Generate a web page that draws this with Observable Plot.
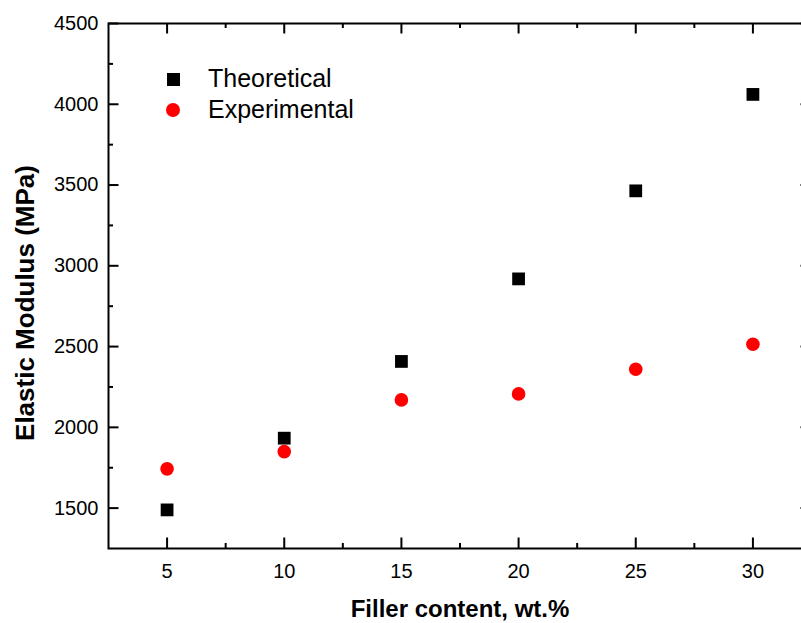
<!DOCTYPE html>
<html>
<head>
<meta charset="utf-8">
<script src="https://cdn.jsdelivr.net/npm/d3@7"></script>
<script src="https://cdn.jsdelivr.net/npm/@observablehq/plot@0.6"></script>
<style>
  html, body { margin: 0; padding: 0; background: #fff; overflow: hidden; }
  #wrap { position: relative; width: 801px; height: 623px; overflow: hidden; font-family: "Liberation Sans", Arial, sans-serif; }
  #wrap svg { max-width: none !important; display: block; overflow: hidden !important; }
  #legend { position: absolute; left: 0; top: 0; }
  .lg-row { position: absolute; left: 0; white-space: nowrap; font-size: 25px; color: #000; }
  .lg-sym { position: absolute; }
</style>
</head>
<body>
<div id="wrap"><div id="legend"></div></div>
<script>
// ---- data ----
const fillerContent = [5, 10, 15, 20, 25, 30];
const theoretical   = [1489, 1933, 2408, 2919, 3464, 4061];
const experimental  = [1743, 1850, 2170, 2207, 2360, 2514];
const seriesNames   = ["Theoretical", "Experimental"];
const xDomain = [2.5, 32.5];
const yDomain = [1250, 4500];
const xMajorTicks = [5, 10, 15, 20, 25, 30];
const xMinorTicks = [7.5, 12.5, 17.5, 22.5, 27.5];
const yMajorTicks = [1500, 2000, 2500, 3000, 3500, 4000, 4500];
const yMinorTicks = [1750, 2250, 2750, 3250, 3750, 4250];
const xTitle = "Filler content, wt.%";
const yTitle = "Elastic Modulus (MPa)";

const rows = [];
fillerContent.forEach((x, i) => {
  rows.push({x, y: theoretical[i], s: seriesNames[0]});
  rows.push({x, y: experimental[i], s: seriesNames[1]});
});

// the plot frame runs past the right edge of the picture (cropped original)
const W = 801, H = 623, ML = 108, MR = -10, MT = 23, MB = 75;
const PW = W - ML - MR, PH = H - MT - MB;
const MAJ = 10.5, MIN = 5;
const tk = {stroke: "#000", strokeWidth: 2};

const chart = Plot.plot({
  width: W, height: H,
  marginLeft: ML, marginRight: MR, marginTop: MT, marginBottom: MB,
  x: {domain: xDomain},
  y: {domain: yDomain},
  style: {fontFamily: "'Liberation Sans', Arial, sans-serif", fontSize: "20px", color: "#000", background: "#fff"},
  marks: [
    // tick labels
    Plot.axisY({ticks: yMajorTicks, anchor: "left", tickSize: 0, tickPadding: 10, tickFormat: d3.format("d"), label: null, fontSize: 20}),
    Plot.axisX({ticks: xMajorTicks, anchor: "bottom", tickSize: 0, tickPadding: 15, tickFormat: d3.format("d"), label: null, fontSize: 20}),
    // inward major ticks
    Plot.tickY(yMajorTicks, {y: d => d, insetRight: PW - MAJ, ...tk}),
    Plot.tickY(yMajorTicks, {y: d => d, insetLeft: PW - MAJ, ...tk}),
    Plot.tickX(xMajorTicks, {x: d => d, insetTop: PH - MAJ, ...tk}),
    Plot.tickX(xMajorTicks, {x: d => d, insetBottom: PH - MAJ, ...tk}),
    // inward minor ticks
    Plot.tickY(yMinorTicks, {y: d => d, insetRight: PW - MIN, ...tk}),
    Plot.tickY(yMinorTicks, {y: d => d, insetLeft: PW - MIN, ...tk}),
    Plot.tickX(xMinorTicks, {x: d => d, insetTop: PH - MIN, ...tk}),
    Plot.tickX(xMinorTicks, {x: d => d, insetBottom: PH - MIN, ...tk}),
    // frame
    Plot.frame({stroke: "#000", strokeWidth: 2}),
    // data
    Plot.dot(rows.filter(d => d.s === seriesNames[0]), {x: "x", y: "y", symbol: "square", r: 7.2, fill: "#000", stroke: "none"}),
    Plot.dot(rows.filter(d => d.s === seriesNames[1]), {x: "x", y: "y", symbol: "circle", r: 6.8, fill: "#ff0000", stroke: "none"}),
    // axis titles
    Plot.text([yTitle], {frameAnchor: "left", dx: -83, dy: 17, rotate: -90, fontWeight: "bold", fontSize: 26, textAnchor: "middle", lineAnchor: "middle", fill: "#000"}),
    Plot.text([xTitle], {frameAnchor: "bottom", dx: 0, dy: 61, fontWeight: "bold", fontSize: 24, textAnchor: "middle", lineAnchor: "middle", fill: "#000"})
  ]
});
const wrap = document.getElementById("wrap");
wrap.insertBefore(chart, wrap.firstChild);

// legend (HTML overlay)
const legend = document.getElementById("legend");
const legendItems = [
  {name: seriesNames[0], shape: "square", color: "#000"},
  {name: seriesNames[1], shape: "circle", color: "#ff0000"}
];
legendItems.forEach((it, i) => {
  const row = document.createElement("div");
  row.className = "lg-row";
  row.style.top = (64 + i * 31) + "px";
  const sym = document.createElement("div");
  sym.className = "lg-sym";
  const sz = it.shape === "square" ? 13 : 14;
  sym.style.width = sz + "px";
  sym.style.height = sz + "px";
  sym.style.left = (173 - sz / 2) + "px";
  sym.style.top = (15 - sz / 2) + "px";
  sym.style.background = it.color;
  if (it.shape === "circle") sym.style.borderRadius = "50%";
  const txt = document.createElement("span");
  txt.textContent = it.name;
  txt.style.position = "absolute";
  txt.style.left = "208px";
  txt.style.top = "0px";
  txt.style.lineHeight = "29px";
  row.appendChild(sym);
  row.appendChild(txt);
  legend.appendChild(row);
});
</script>
</body>
</html>
